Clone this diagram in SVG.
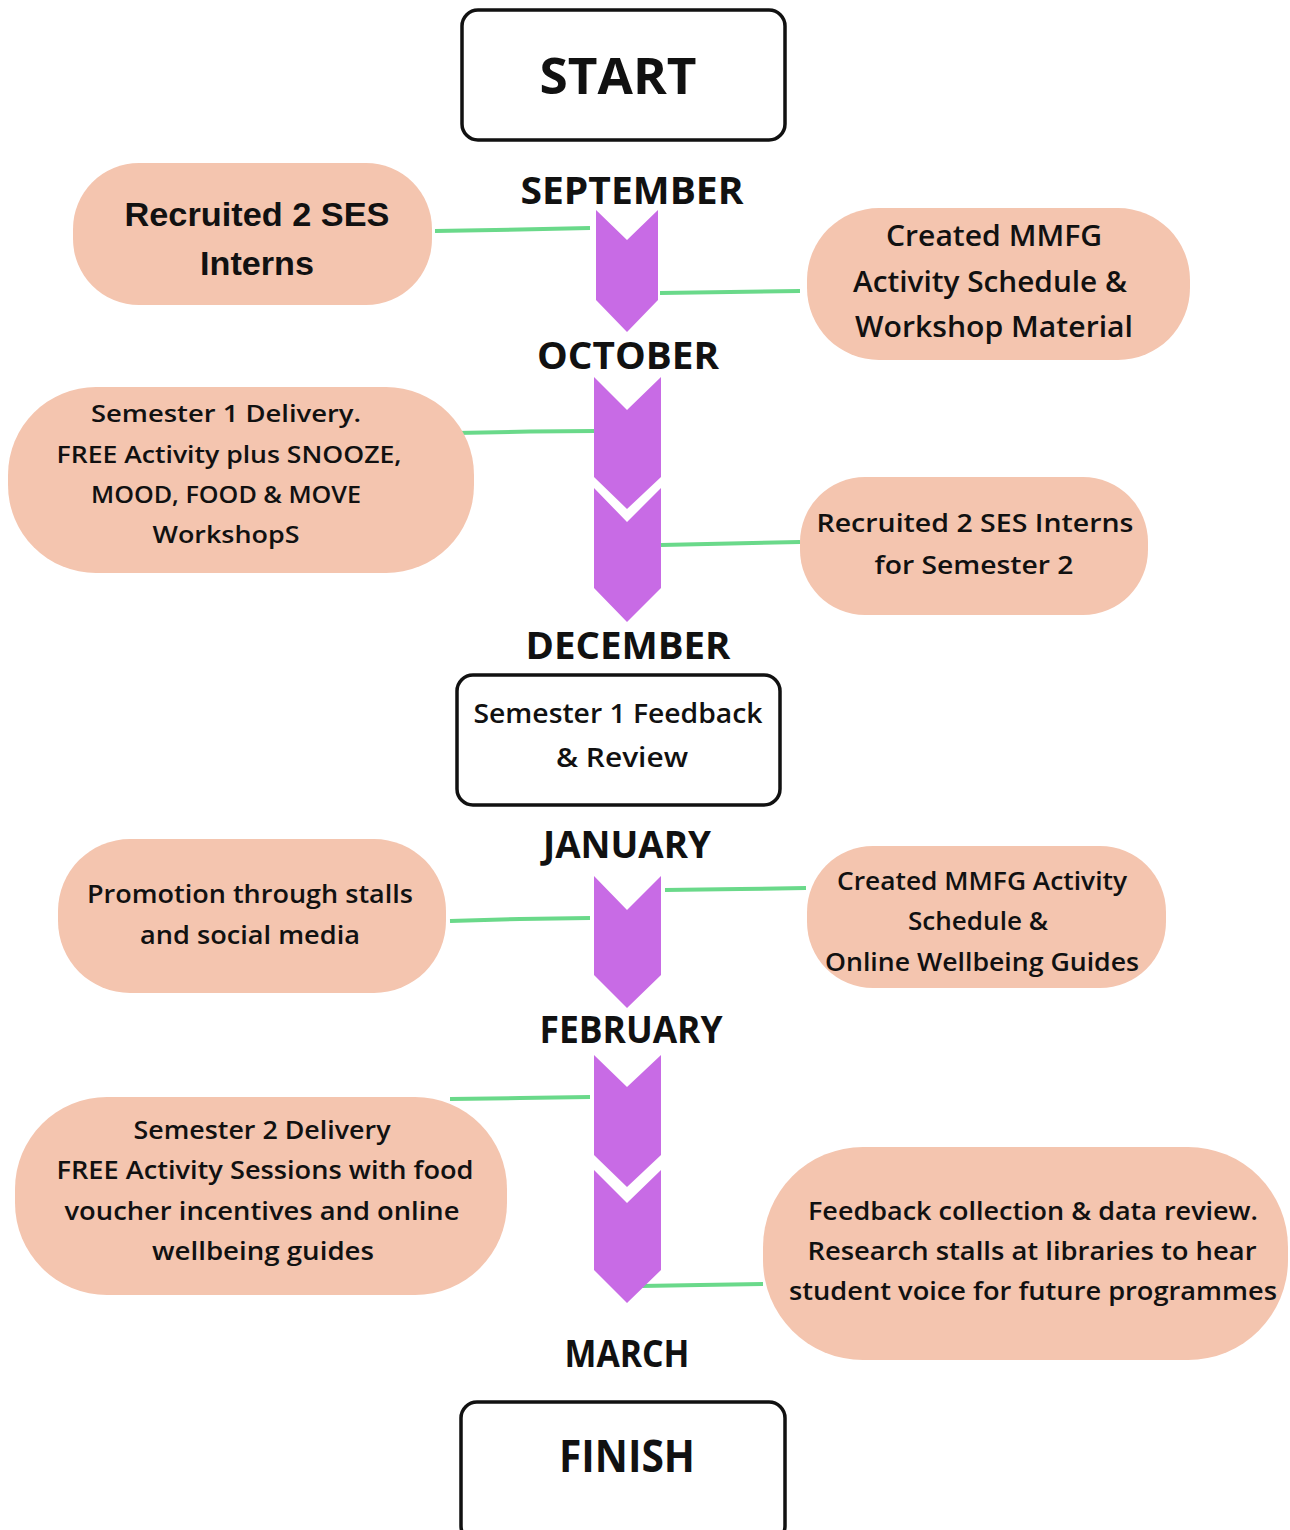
<svg xmlns="http://www.w3.org/2000/svg" width="1290" height="1530" viewBox="0 0 1290 1530">
<defs>
<style>
.blob{fill:#F4C5AF;}
.box{fill:#fff;stroke:#111;stroke-width:3.5;}
.chev{fill:#C86BE5;}
.link{fill:none;stroke:#6AD98A;stroke-width:4;stroke-linecap:butt;}
.t{font-family:"Open Sans","Liberation Sans",sans-serif;font-weight:600;fill:#111;text-anchor:middle;}
.tb{font-family:"Open Sans","Liberation Sans",sans-serif;font-weight:700;fill:#111;text-anchor:middle;}
.ta{font-family:"Liberation Sans",Arial,sans-serif;font-weight:700;fill:#111;text-anchor:middle;}
.m{font-family:"Open Sans","Liberation Sans",sans-serif;font-weight:700;fill:#111;text-anchor:middle;font-size:38px;}
</style>
</defs>
<rect width="1290" height="1530" fill="#fff"/>

<g id="connectors">
<polyline class="link" points="435,231 520,229.5 590,228"/>
<polyline class="link" points="660,293 730,292 800,291"/>
<polyline class="link" points="456,433 530,431.5 596,431"/>
<polyline class="link" points="661,545 730,543.5 800,542"/>
<polyline class="link" points="450,921 520,919 590,918"/>
<polyline class="link" points="665,890 740,889 806,888"/>
<polyline class="link" points="450,1099 520,1098 590,1097"/>
<polyline class="link" points="641,1286 700,1285 763,1284"/>
</g>

<g id="chevrons">
<polygon class="chev" points="596,210 627,240 658,210 658,300 627,332 596,300"/>
<polygon class="chev" points="594,377 627,410 661,377 661,477 627,509 594,477"/>
<polygon class="chev" points="594,488 627,522 661,488 661,588 627,622 594,588"/>
<polygon class="chev" points="594,876 627,910 661,876 661,975 627,1008 594,975"/>
<polygon class="chev" points="594,1055 627,1087 661,1055 661,1155 627,1187 594,1155"/>
<polygon class="chev" points="594,1170 627,1203 661,1170 661,1270 627,1303 594,1270"/>
</g>

<g id="months">
<text class="m" x="632" y="204" textLength="223" lengthAdjust="spacingAndGlyphs">SEPTEMBER</text>
<text class="m" x="628" y="369" textLength="182" lengthAdjust="spacingAndGlyphs">OCTOBER</text>
<text class="m" x="628" y="659" textLength="205" lengthAdjust="spacingAndGlyphs">DECEMBER</text>
<text class="m" x="627" y="858" textLength="168" lengthAdjust="spacingAndGlyphs">JANUARY</text>
<text class="m" x="631" y="1043" textLength="183" lengthAdjust="spacingAndGlyphs">FEBRUARY</text>
<text class="m" x="627" y="1367" textLength="125" lengthAdjust="spacingAndGlyphs">MARCH</text>
</g>

<g id="start">
<rect class="box" x="462" y="10" width="323" height="130" rx="16"/>
<text class="tb" x="618" y="94" font-size="50" textLength="157" lengthAdjust="spacingAndGlyphs">START</text>
</g>

<g id="review">
<rect class="box" x="457" y="675" width="323" height="130" rx="16"/>
<text class="t" x="618" y="723" font-size="27" textLength="289" lengthAdjust="spacingAndGlyphs">Semester 1 Feedback</text>
<text class="t" x="622" y="767" font-size="27" textLength="132" lengthAdjust="spacingAndGlyphs">&amp; Review</text>
</g>

<g id="finish">
<rect class="box" x="461" y="1402" width="324" height="140" rx="16"/>
<text class="tb" x="627" y="1472" font-size="44" textLength="136" lengthAdjust="spacingAndGlyphs">FINISH</text>
</g>

<g id="recruited1">
<rect class="blob" x="73" y="163" width="359" height="142" rx="66"/>
<text class="ta" x="257" y="226" font-size="34" textLength="265" lengthAdjust="spacingAndGlyphs">Recruited 2 SES</text>
<text class="ta" x="257" y="275" font-size="34" textLength="114" lengthAdjust="spacingAndGlyphs">Interns</text>
</g>

<g id="created1">
<rect class="blob" x="807" y="208" width="383" height="152" rx="72"/>
<text class="t" x="994" y="246" font-size="28" textLength="216" lengthAdjust="spacingAndGlyphs">Created MMFG</text>
<text class="t" x="990" y="292" font-size="28" textLength="274" lengthAdjust="spacingAndGlyphs">Activity Schedule &amp;</text>
<text class="t" x="994" y="337" font-size="28" textLength="278" lengthAdjust="spacingAndGlyphs">Workshop Material</text>
</g>

<g id="sem1">
<rect class="blob" x="8" y="387" width="466" height="186" rx="88"/>
<text class="t" x="226" y="422" font-size="24" textLength="270" lengthAdjust="spacingAndGlyphs">Semester 1 Delivery.</text>
<text class="t" x="229" y="463" font-size="24" textLength="345" lengthAdjust="spacingAndGlyphs">FREE Activity plus SNOOZE,</text>
<text class="t" x="226" y="503" font-size="24" textLength="270" lengthAdjust="spacingAndGlyphs">MOOD, FOOD &amp; MOVE</text>
<text class="t" x="226" y="543" font-size="24" textLength="147" lengthAdjust="spacingAndGlyphs">WorkshopS</text>
</g>

<g id="recruited2">
<rect class="blob" x="800" y="477" width="348" height="138" rx="65"/>
<text class="t" x="975" y="532" font-size="26" textLength="317" lengthAdjust="spacingAndGlyphs">Recruited 2 SES Interns</text>
<text class="t" x="974" y="574" font-size="26" textLength="199" lengthAdjust="spacingAndGlyphs">for Semester 2</text>
</g>

<g id="promotion">
<rect class="blob" x="58" y="839" width="388" height="154" rx="72"/>
<text class="t" x="250" y="903" font-size="25" textLength="326" lengthAdjust="spacingAndGlyphs">Promotion through stalls</text>
<text class="t" x="250" y="944" font-size="25" textLength="220" lengthAdjust="spacingAndGlyphs">and social media</text>
</g>

<g id="created2">
<rect class="blob" x="807" y="846" width="359" height="142" rx="66"/>
<text class="t" x="982" y="890" font-size="25" textLength="290" lengthAdjust="spacingAndGlyphs">Created MMFG Activity</text>
<text class="t" x="978" y="930" font-size="25" textLength="140" lengthAdjust="spacingAndGlyphs">Schedule &amp;</text>
<text class="t" x="982" y="971" font-size="25" textLength="314" lengthAdjust="spacingAndGlyphs">Online Wellbeing Guides</text>
</g>

<g id="sem2">
<rect class="blob" x="15" y="1097" width="492" height="198" rx="92"/>
<text class="t" x="262" y="1139" font-size="25" textLength="257" lengthAdjust="spacingAndGlyphs">Semester 2 Delivery</text>
<text class="t" x="265" y="1179" font-size="25" textLength="417" lengthAdjust="spacingAndGlyphs">FREE Activity Sessions with food</text>
<text class="t" x="262" y="1220" font-size="25" textLength="395" lengthAdjust="spacingAndGlyphs">voucher incentives and online</text>
<text class="t" x="263" y="1260" font-size="25" textLength="222" lengthAdjust="spacingAndGlyphs">wellbeing guides</text>
</g>

<g id="feedback">
<rect class="blob" x="763" y="1147" width="525" height="213" rx="100"/>
<text class="t" x="1033" y="1220" font-size="25" textLength="450" lengthAdjust="spacingAndGlyphs">Feedback collection &amp; data review.</text>
<text class="t" x="1032" y="1260" font-size="25" textLength="449" lengthAdjust="spacingAndGlyphs">Research stalls at libraries to hear</text>
<text class="t" x="1033" y="1300" font-size="25" textLength="488" lengthAdjust="spacingAndGlyphs">student voice for future programmes</text>
</g>
</svg>
